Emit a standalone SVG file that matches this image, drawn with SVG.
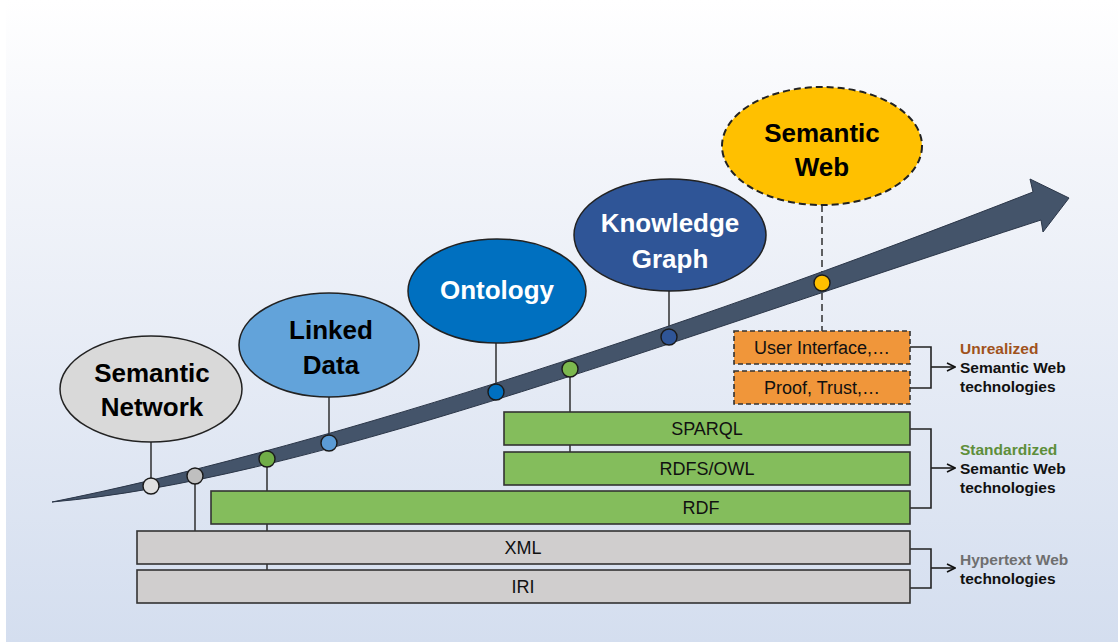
<svg xmlns="http://www.w3.org/2000/svg" width="1118" height="642" viewBox="0 0 1118 642">
<defs>
<linearGradient id="bg" x1="0" y1="0" x2="0" y2="1">
<stop offset="0" stop-color="#ffffff"/>
<stop offset="0.25" stop-color="#f3f5fa"/>
<stop offset="1" stop-color="#d4deef"/>
</linearGradient>
<marker id="ah" viewBox="0 0 10 10" refX="9" refY="5" markerWidth="10" markerHeight="10" markerUnits="userSpaceOnUse" orient="auto">
<path d="M1,1 L9,5 L1,9" fill="none" stroke="#111" stroke-width="1.6"/>
</marker>
</defs>
<style>
.lbl{font-family:"Liberation Sans",Arial,sans-serif;font-weight:bold;font-size:26px;text-anchor:middle}
.box{stroke:#333;stroke-width:1.6}
.btx{font-family:"Liberation Sans",Arial,sans-serif;font-size:18px;text-anchor:middle;fill:#111}
.side{font-family:"Liberation Sans",Arial,sans-serif;font-weight:bold;font-size:15.5px;fill:#111}
.ln{stroke:#222;stroke-width:1.4;fill:none}
.dot{stroke:#1a1a1a;stroke-width:1.4}
.br{stroke:#222;stroke-width:1.6;fill:none}
</style>
<rect width="1118" height="642" fill="url(#bg)"/>
<rect width="6" height="642" fill="#ffffff"/>

<g id="connectors">
<line class="ln" x1="151" y1="442" x2="151" y2="485"/>
<line class="ln" x1="329" y1="397" x2="329" y2="443"/>
<line class="ln" x1="496" y1="343" x2="496" y2="392"/>
<line class="ln" x1="669" y1="291" x2="669" y2="337"/>
<line class="ln" x1="195" y1="476" x2="195" y2="531"/>
<line class="ln" x1="267" y1="459" x2="267" y2="571"/>
<line class="ln" x1="570" y1="369" x2="570" y2="453"/>
<line class="ln" x1="822" y1="205" x2="822" y2="372" stroke-dasharray="7,4"/>
<polyline class="br" points="910,347 931,347 931,388 910,388"/>
<line class="br" x1="931" y1="367" x2="955" y2="367" marker-end="url(#ah)"/>
<polyline class="br" points="910,429 931,429 931,508 910,508"/>
<line class="br" x1="931" y1="468" x2="955" y2="468" marker-end="url(#ah)"/>
<polyline class="br" points="910,549 931,549 931,588 910,588"/>
<line class="br" x1="931" y1="568" x2="955" y2="568" marker-end="url(#ah)"/>
</g>

<g id="timeline">
<path d="M52,502 C302,452 660,338 1033,192 L1030,179 L1069,198 L1043,232 L1041,220 C641,350 302,480 52,502 Z" fill="#44546a" stroke="#2b3648" stroke-width="1"/>
<circle class="dot" cx="151" cy="486" r="8" fill="#e0e0e0"/>
<circle class="dot" cx="195" cy="476" r="8" fill="#bfbfbf"/>
<circle class="dot" cx="267" cy="459" r="8" fill="#70ad47"/>
<circle class="dot" cx="329" cy="443" r="8" fill="#5b9bd5"/>
<circle class="dot" cx="496" cy="392" r="8" fill="#0070c0"/>
<circle class="dot" cx="570" cy="369" r="8" fill="#7cb84e"/>
<circle class="dot" cx="669" cy="337" r="8" fill="#2f5597"/>
<circle class="dot" cx="822" cy="283" r="8" fill="#ffc000"/>
</g>

<g id="semantic-network">
<ellipse cx="151" cy="389" rx="91" ry="53" fill="#d9d9d9" stroke="#222" stroke-width="1.5"/>
<text class="lbl" x="152" y="382" fill="#000">Semantic</text>
<text class="lbl" x="152" y="416" fill="#000">Network</text>
</g>
<g id="linked-data">
<ellipse cx="329" cy="345" rx="90" ry="52" fill="#62a3da" stroke="#222" stroke-width="1.5"/>
<text class="lbl" x="331" y="339" fill="#000">Linked</text>
<text class="lbl" x="331" y="374" fill="#000">Data</text>
</g>
<g id="ontology">
<ellipse cx="497" cy="291" rx="89" ry="52" fill="#0070c0" stroke="#222" stroke-width="1.5"/>
<text class="lbl" x="497" y="299" fill="#fff">Ontology</text>
</g>
<g id="knowledge-graph">
<ellipse cx="670" cy="235" rx="96" ry="56" fill="#2f5597" stroke="#222" stroke-width="1.5"/>
<text class="lbl" x="670" y="232" fill="#fff">Knowledge</text>
<text class="lbl" x="670" y="268" fill="#fff">Graph</text>
</g>
<g id="semantic-web">
<ellipse cx="822" cy="146" rx="100" ry="59" fill="#ffc000" stroke="#222" stroke-width="2" stroke-dasharray="7,4"/>
<text class="lbl" x="822" y="142" fill="#000">Semantic</text>
<text class="lbl" x="822" y="176" fill="#000">Web</text>
</g>

<g id="user-interface">
<rect class="box" x="734" y="331" width="176" height="33" fill="#f0963a" stroke-dasharray="5,3"/>
<text class="btx" x="822" y="354">User Interface,…</text>
</g>
<g id="proof-trust">
<rect class="box" x="734" y="371" width="176" height="33" fill="#f0963a" stroke-dasharray="5,3"/>
<text class="btx" x="822" y="394">Proof, Trust,…</text>
</g>
<g id="sparql">
<rect class="box" x="504" y="412" width="406" height="33" fill="#84bd5c"/>
<text class="btx" x="707" y="435">SPARQL</text>
</g>
<g id="rdfs-owl">
<rect class="box" x="504" y="452" width="406" height="33" fill="#84bd5c"/>
<text class="btx" x="707" y="475">RDFS/OWL</text>
</g>
<g id="rdf">
<rect class="box" x="211" y="491" width="699" height="33" fill="#84bd5c"/>
<text class="btx" x="701" y="514">RDF</text>
</g>
<g id="xml">
<rect class="box" x="137" y="531" width="773" height="33" fill="#d0cece"/>
<text class="btx" x="523" y="554">XML</text>
</g>
<g id="iri">
<rect class="box" x="137" y="570" width="773" height="33" fill="#d0cece"/>
<text class="btx" x="523" y="593">IRI</text>
</g>

<g id="legend-unrealized">
<text class="side" x="960" y="354" style="fill:#a0521c">Unrealized</text>
<text class="side" x="960" y="373">Semantic Web</text>
<text class="side" x="960" y="392">technologies</text>
</g>
<g id="legend-standardized">
<text class="side" x="960" y="455" style="fill:#5e8e3a">Standardized</text>
<text class="side" x="960" y="474">Semantic Web</text>
<text class="side" x="960" y="493">technologies</text>
</g>
<g id="legend-hypertext">
<text class="side" x="960" y="565" style="fill:#6f6f6f">Hypertext Web</text>
<text class="side" x="960" y="584">technologies</text>
</g>
</svg>
